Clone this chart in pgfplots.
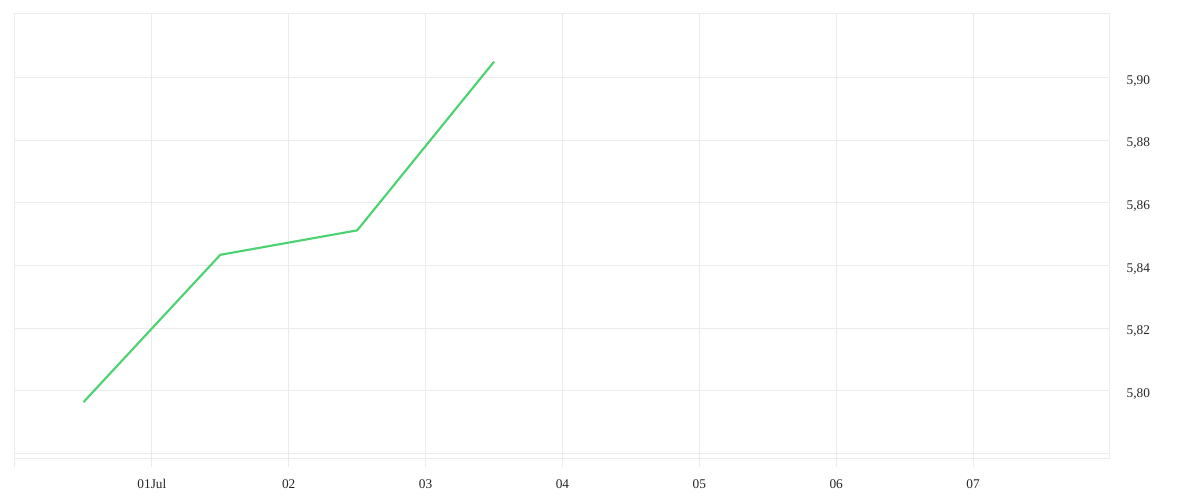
\documentclass[border=0pt]{standalone}
\usepackage{pgfplots}
\pgfplotsset{compat=1.18}
\usepackage{fontspec}
\setmainfont{Liberation Serif}
\definecolor{gridgray}{HTML}{EBEBEB}
\definecolor{linegreen}{HTML}{4CD271}
\begin{document}
\begin{tikzpicture}
% page: 1200x500 px at 0.75pt per px; plot area from (15,14) to (1110,458) px
\useasboundingbox (-11.25pt,-31.5pt) rectangle (888.75pt,343.5pt);
\begin{axis}[
    scale only axis,
    width=821.25pt, height=333pt,
    xmin=0, xmax=8,
    ymin=5.7786, ymax=5.9202,
    xtick={0,1,2,3,4,5,6,7},
    xticklabels={,01Jul,02,03,04,05,06,07},
    ytick={5.78,5.80,5.82,5.84,5.86,5.88,5.90},
    yticklabels={,5{,}80,5{,}82,5{,}84,5{,}86,5{,}88,5{,}90},
    xtick pos=bottom, ytick pos=right,
    xtick align=outside,
    major tick length=6.75pt,
    xtick style={gridgray, line width=0.75pt},
    ytick style={draw=none},
    grid=major,
    grid style={gridgray, line width=0.75pt},
    axis line style={gridgray, line width=0.75pt},
    yticklabel pos=right,
    yticklabel style={font=\fontsize{10}{12}\selectfont, anchor=west, xshift=9pt, yshift=-2.5pt},
    xticklabel style={font=\fontsize{10}{12}\selectfont, yshift=-6pt},
    tick label style={text=black!85},
]
\addplot[linegreen, line width=1.6pt] coordinates {
    (0.5,5.7964) (1.5,5.8434) (2.5,5.8512) (3.5,5.9050)
};
\end{axis}
\end{tikzpicture}
\end{document}
